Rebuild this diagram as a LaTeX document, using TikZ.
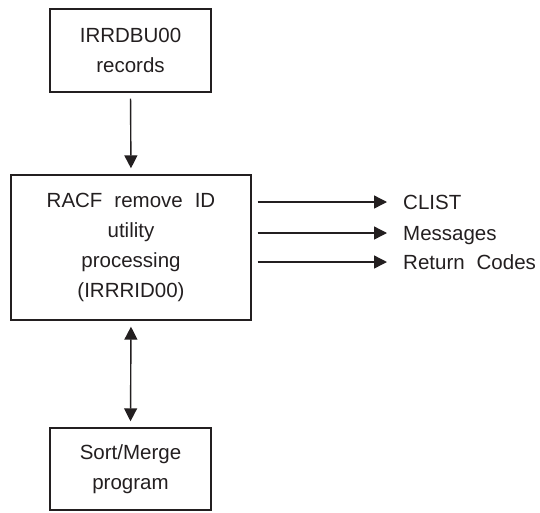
\documentclass[tikz,border=0pt]{standalone}
\usepackage{fontspec}
\setmainfont{Liberation Sans}[WordSpace=2.1]
\usetikzlibrary{arrows.meta}
\definecolor{ink}{HTML}{231F20}
\tikzset{
  box/.style={draw=ink, line width=1.4pt, align=center, inner sep=0pt,
    font=\fontsize{20.5}{30}\selectfont, text=ink},
  lbl/.style={anchor=base west, inner sep=0pt, font=\fontsize{20.5}{30}\selectfont, text=ink},
  conn/.style={draw=ink, line width=1.4pt, -{Triangle[length=13pt,width=13pt]}},
  dconn/.style={draw=ink, line width=1.4pt, {Triangle[length=13pt,width=13pt]}-{Triangle[length=13pt,width=13pt]}}
}
\begin{document}
\begin{tikzpicture}[x=1pt,y=-1pt]
\useasboundingbox (0,0) rectangle (540,512);
\node[box, minimum width=161pt, minimum height=83pt] (top) at (130.5,50.5) {IRRDBU00\\records};
\node[box, minimum width=240pt, minimum height=145pt] (mid) at (131,247.5) {RACF remove ID\\utility\\processing\\(IRRRID00)};
\node[box, minimum width=161pt, minimum height=82pt] (bot) at (130.5,469) {Sort/Merge\\program};
\node[lbl] (clist) at (403,209.3) {CLIST};
\node[lbl] (msg) at (403,240.3) {Messages};
\node[lbl] (rc) at (403,269.3) {Return Codes};
\coordinate (c1) at (403,202);
\coordinate (c2) at (403,233);
\coordinate (c3) at (403,262);
\draw[conn, shorten <=6pt, shorten >=6pt] (top.south) -- (mid.north);
\draw[dconn, shorten <=6pt, shorten >=6pt] (mid.south) -- (bot.north);
\draw[conn, shorten <=6pt, shorten >=16pt] (mid.east |- c1) -- (c1);
\draw[conn, shorten <=6pt, shorten >=16pt] (mid.east |- c2) -- (c2);
\draw[conn, shorten <=6pt, shorten >=16pt] (mid.east |- c3) -- (c3);
\end{tikzpicture}
\end{document}
